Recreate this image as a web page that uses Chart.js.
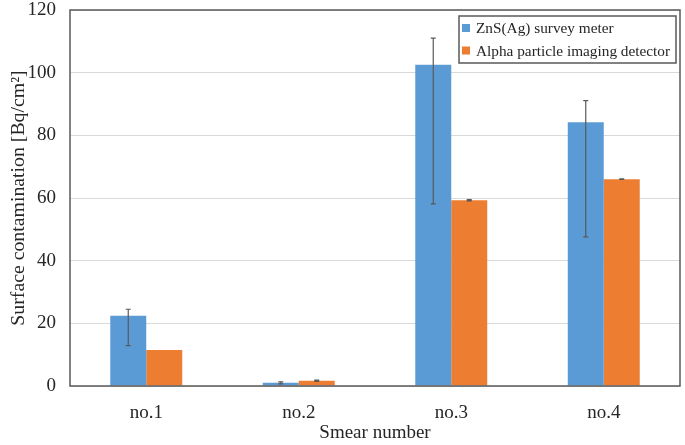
<!DOCTYPE html>
<html>
<head>
<meta charset="utf-8">
<script src="https://cdn.jsdelivr.net/npm/chart.js@4/dist/chart.umd.min.js"></script>
<style>
  body { margin: 0; background: #fff; }
  #wrap { width: 685px; height: 445px; }
</style>
</head>
<body>
<div id="wrap"><canvas id="smearChart"></canvas></div>
<script>
// categories + series values
const smearLabels = ['no.1', 'no.2', 'no.3', 'no.4'];
const seriesNames = ['ZnS(Ag) survey meter', 'Alpha particle imaging detector'];

const znsValues = [22.4, 1.0, 102.5, 84.2];
const znsErrHigh = [24.5, 1.3, 111.0, 91.1];
const znsErrLow = [12.9, 0.7, 58.1, 47.6];

const alphaValues = [11.5, 1.7, 59.3, 66.0];
const alphaErrHigh = [11.5, 1.9, 59.5, 66.1];
const alphaErrLow = [11.5, 1.5, 59.1, 65.9];

const yTicks = [0, 20, 40, 60, 80, 100, 120];

const errData = [
    {hi: znsErrHigh, lo: znsErrLow},
    {hi: alphaErrHigh, lo: alphaErrLow}
];

const serif = "'Liberation Serif', 'Times New Roman', serif";
const textColor = '#262626';
const frameColor = '#595959';

// error bars, drawn on top of the bars using the y scale
const errorBarPlugin = {
    id: 'errorBars',
    afterDatasetsDraw(chart) {
        const ctx = chart.ctx;
        const yScale = chart.scales.y;
        ctx.save();
        ctx.strokeStyle = '#595959';
        ctx.lineWidth = 1.2;
        chart.data.datasets.forEach((ds, di) => {
            const meta = chart.getDatasetMeta(di);
            meta.data.forEach((bar, i) => {
                const hi = errData[di].hi[i];
                const lo = errData[di].lo[i];
                if (hi === lo) return;
                const yHi = yScale.getPixelForValue(hi);
                const yLo = yScale.getPixelForValue(lo);
                const x = bar.x;
                ctx.beginPath();
                ctx.moveTo(x, yHi); ctx.lineTo(x, yLo);
                ctx.moveTo(x - 2.5, yHi); ctx.lineTo(x + 2.5, yHi);
                ctx.moveTo(x - 2.5, yLo); ctx.lineTo(x + 2.5, yLo);
                ctx.stroke();
            });
        });
        ctx.restore();
    }
};

// plot frame + boxed legend in the top right corner
const framePlugin = {
    id: 'frameLegend',
    afterDraw(chart) {
        const ctx = chart.ctx;
        const a = chart.chartArea;
        ctx.save();
        ctx.strokeStyle = frameColor;
        ctx.lineWidth = 1.5;
        ctx.strokeRect(a.left, a.top, a.right - a.left, a.bottom - a.top);

        // legend box
        const bx = a.right - 221, by = a.top + 6, bw = 217, bh = 47;
        ctx.fillStyle = '#fff';
        ctx.fillRect(bx, by, bw, bh);
        ctx.strokeRect(bx, by, bw, bh);
        ctx.font = '15.3px ' + serif;
        ctx.textBaseline = 'middle';
        chart.data.datasets.forEach((ds, i) => {
            const cy = by + 12 + i * 22.5;
            ctx.fillStyle = ds.backgroundColor;
            ctx.fillRect(bx + 3, cy - 4, 8, 8);
            ctx.fillStyle = textColor;
            ctx.fillText(ds.label, bx + 17, cy + 1);
        });
        ctx.restore();
    }
};

const smearChart = new Chart(document.getElementById('smearChart'), {
    type: 'bar',
    data: {
        labels: smearLabels,
        datasets: [
            {label: seriesNames[0], data: znsValues, backgroundColor: '#5B9BD5'},
            {label: seriesNames[1], data: alphaValues, backgroundColor: '#ED7D31'}
        ]
    },
    options: {
        responsive: true,
        maintainAspectRatio: false,
        animation: false,
        layout: {padding: {top: 10, right: 5, left: 0, bottom: 0}},
        datasets: {bar: {barPercentage: 1, categoryPercentage: 0.472}},
        plugins: {
            legend: {display: false},
            tooltip: {enabled: false}
        },
        scales: {
            x: {
                grid: {display: false},
                border: {display: false},
                ticks: {color: textColor, font: {family: serif, size: 19}, padding: 8},
                title: {
                    display: true, text: 'Smear number', color: textColor,
                    font: {family: serif, size: 19}, padding: {top: 0, bottom: 1}
                },
                afterFit(scale) {
                    scale.height = 59;
                    scale.paddingLeft = 0; scale.paddingRight = 0;
                }
            },
            y: {
                min: 0, max: 120,
                afterBuildTicks(scale) { scale.ticks = yTicks.map(v => ({value: v})); },
                grid: {color: '#d9d9d9', lineWidth: 1, drawTicks: false},
                border: {display: false},
                ticks: {color: textColor, font: {family: serif, size: 19}, padding: 14},
                title: {
                    display: true, text: 'Surface contamination [Bq/cm²]', color: textColor,
                    font: {family: serif, size: 19.8}, padding: {top: 7, bottom: 0}
                },
                afterFit(scale) {
                    scale.width = 70;
                    scale.paddingTop = 0; scale.paddingBottom = 0;
                }
            }
        }
    },
    plugins: [errorBarPlugin, framePlugin]
});
</script>
</body>
</html>
